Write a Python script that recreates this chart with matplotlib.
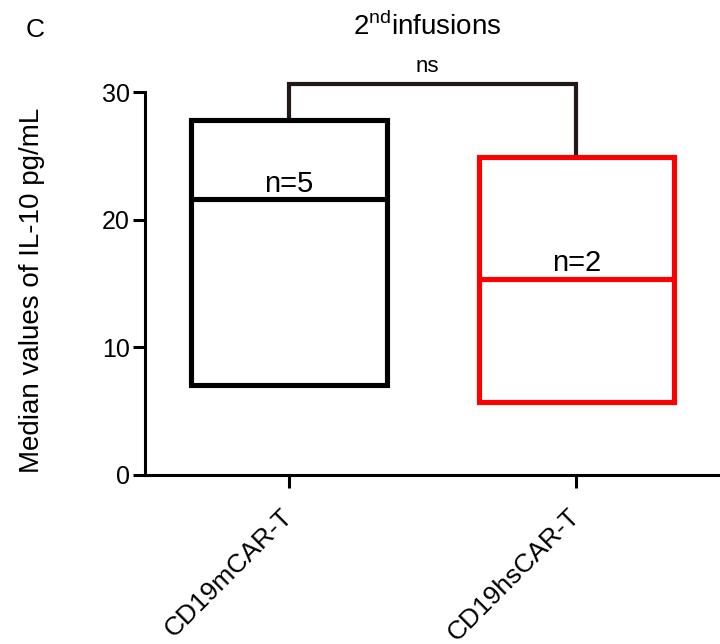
import matplotlib
matplotlib.use("Agg")
import matplotlib.pyplot as plt
from matplotlib.patches import Rectangle
from matplotlib import font_manager

fams = {f.name for f in font_manager.fontManager.ttflist}
base = "Liberation Sans" if "Liberation Sans" in fams else "DejaVu Sans"
narrow = "Liberation Sans Narrow" if "Liberation Sans Narrow" in fams else base
plt.rcParams['font.family'] = [base, 'DejaVu Sans']

# Data
categories = ["CD19mCAR-T", "CD19hsCAR-T"]
box_min = [7.05, 5.7]
box_median = [21.6, 15.35]
box_max = [27.8, 24.9]
n_labels = ["n=5", "n=2"]
colors = ["black", "#ff0000"]
yticks = [0, 10, 20, 30]
sig_label = "ns"
sig_top = 30.6

fig = plt.figure(figsize=(7.2, 6.44), dpi=100)
ax = fig.add_axes([145/720, 1-475/644, 1-145/720, (475-92)/644])

width = 0.68
for i, (lo, med, hi, c, lab) in enumerate(zip(box_min, box_median, box_max, colors, n_labels)):
    ax.add_patch(Rectangle((i - width/2, lo), width, hi - lo, fill=False,
                           edgecolor=c, linewidth=3.7, joinstyle='miter', clip_on=False, zorder=3))
    ax.plot([i - width/2, i + width/2], [med, med], color=c, linewidth=3.7,
            solid_capstyle='butt', clip_on=False, zorder=3)
    ax.text(i, med + 0.6, lab, ha='center', va='baseline', fontsize=21, color='black')

# significance bracket
ax.plot([0, 0, 1, 1], [box_max[0], sig_top, sig_top, box_max[1]], color="#231815",
        linewidth=3.0, clip_on=False, solid_joinstyle='miter', zorder=2)
fig.text(427/720, 1-72/644, sig_label, ha='center', va='baseline', fontsize=16, family=narrow)

ax.set_xlim(-0.5, 1.5)
ax.set_ylim(0, 30)
ax.set_yticks(yticks)
ax.set_yticklabels([str(t) for t in yticks], fontsize=18)
ax.set_xticks(range(len(categories)))
ax.set_xticklabels(categories, rotation=45, ha='right', va='center', rotation_mode='anchor', fontsize=19)
for s in ['top', 'right']:
    ax.spines[s].set_visible(False)
for s in ['left', 'bottom']:
    ax.spines[s].set_linewidth(2.2)
ax.tick_params(axis='y', length=9, width=2.2, pad=2)
ax.tick_params(axis='x', length=9, width=2.2, pad=18)
ax.set_ylabel("Median values of IL-10 pg/mL", fontsize=20)
ax.yaxis.set_label_coords((45-145)/575, 0.483)

fig.text(35/720, 1-37/644, "C", fontsize=19, ha='center', va='baseline')
fig.text(427/720, 1-35/644, r"2$^{\mathregular{nd}}$infusions", fontsize=20, ha='center', va='baseline',
         family=narrow)

fig.savefig("out.png", dpi=100)
